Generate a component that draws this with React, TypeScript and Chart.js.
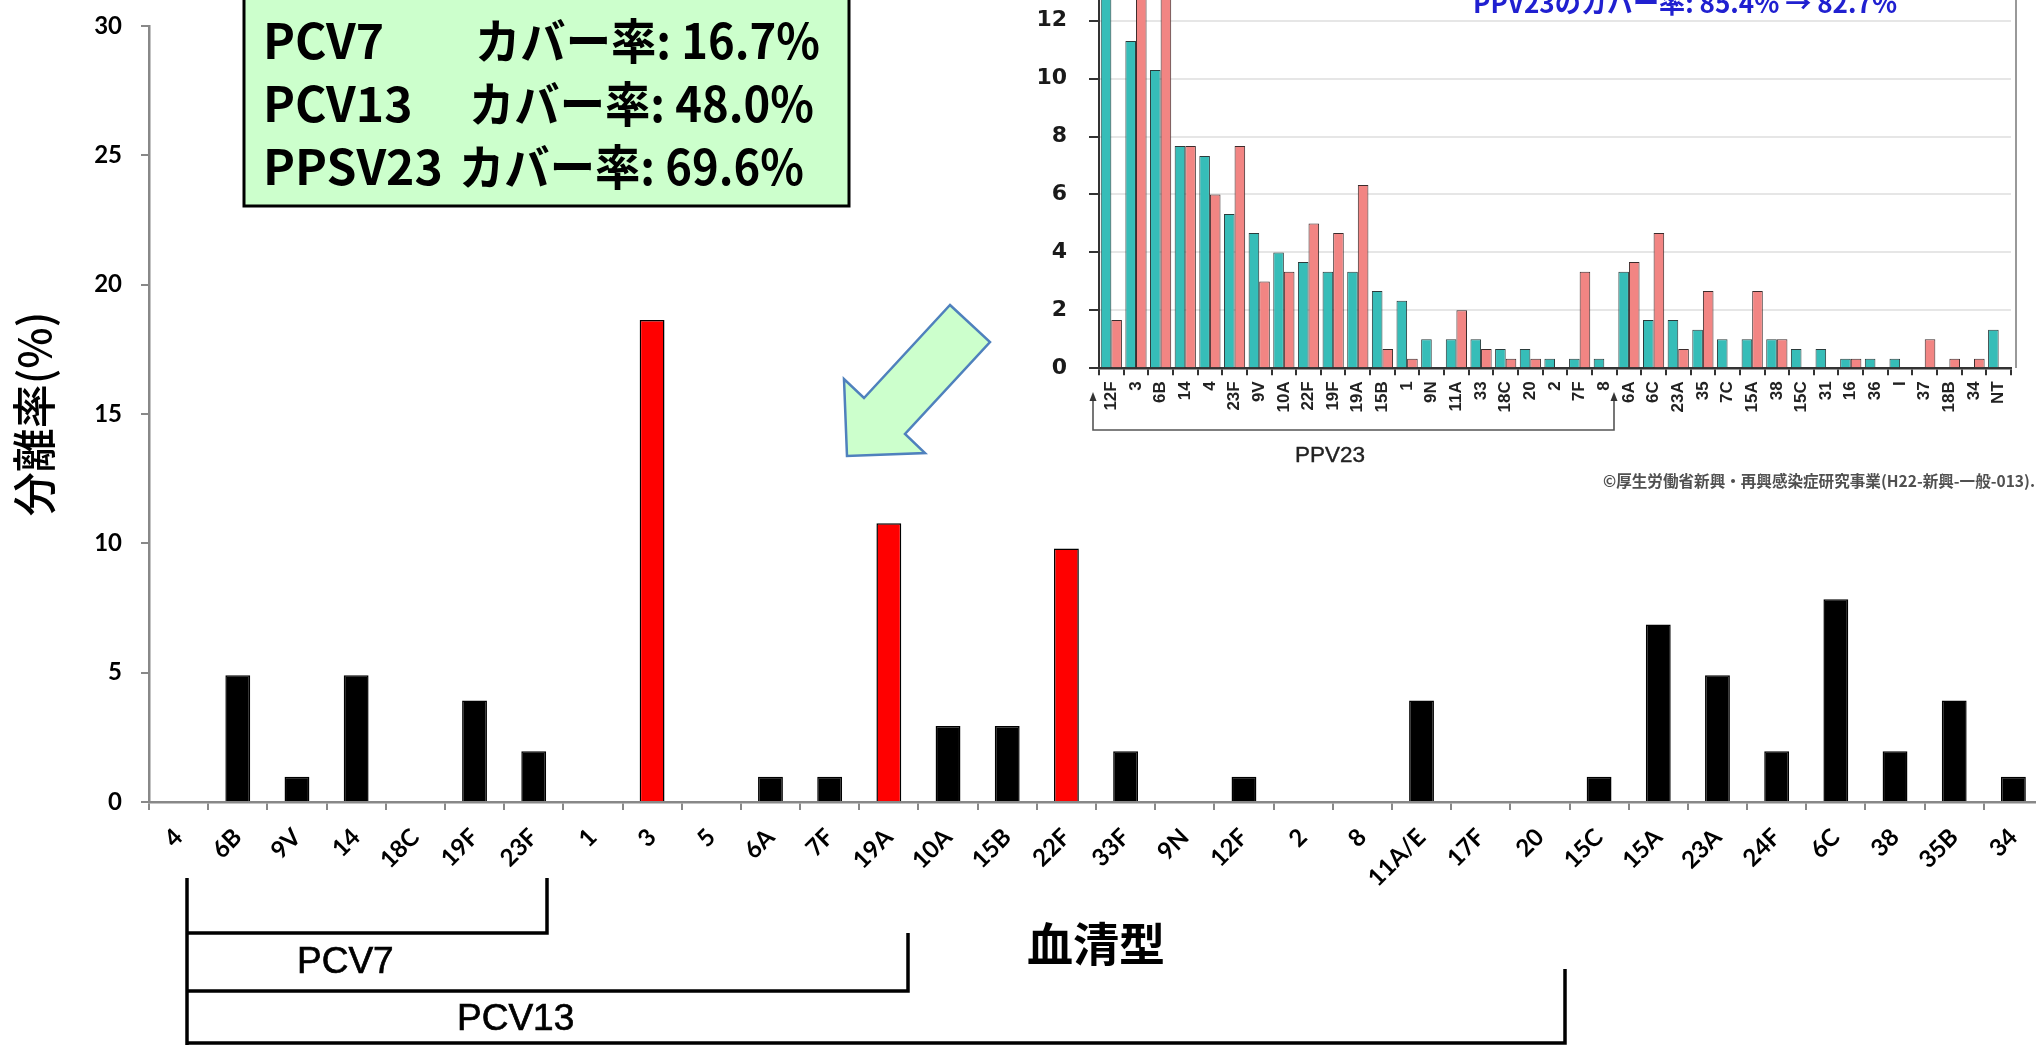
import React, { useEffect, useRef } from 'react';
import { Chart, registerables } from 'chart.js';

Chart.register(...registerables);

// Main chart: serotype distribution (%)
const serotypes = ['4', '6B', '9V', '14', '18C', '19F', '23F', '1', '3', '5', '6A', '7F', '19A', '10A', '15B', '22F', '33F', '9N', '12F', '2', '8', '11A/E', '17F', '20', '15C', '15A', '23A', '24F', '6C', '38', '35B', '34'];
const isolationRate = [0, 4.9, 0.98, 4.9, 0, 3.92, 1.96, 0, 18.63, 0, 0.98, 0.98, 10.78, 2.94, 2.94, 9.8, 1.96, 0, 0.98, 0, 0, 3.92, 0, 0, 0.98, 6.86, 4.9, 1.96, 7.84, 1.96, 3.92, 0.98];
const highlightedSerotypes = ['3', '19A', '22F'];
const mainYMax = 30;
const mainYStep = 5;

// Inset chart (two surveys)
const insetSerotypes = ['12F', '3', '6B', '14', '4', '23F', '9V', '10A', '22F', '19F', '19A', '15B', '1', '9N', '11A', '33', '18C', '20', '2', '7F', '8', '6A', '6C', '23A', '35', '7C', '15A', '38', '15C', '31', '16', '36', 'I', '37', '18B', '34', 'NT'];
const insetSeriesTeal = [16.0, 11.3, 10.3, 7.67, 7.33, 5.33, 4.67, 4.0, 3.67, 3.33, 3.33, 2.67, 2.33, 1.0, 1.0, 1.0, 0.67, 0.67, 0.33, 0.33, 0.33, 3.33, 1.67, 1.67, 1.33, 1.0, 1.0, 1.0, 0.67, 0.67, 0.33, 0.33, 0.33, 0, 0, 0, 1.33];
const insetSeriesSalmon = [1.67, 14.0, 13.0, 7.67, 6.0, 7.67, 3.0, 3.33, 5.0, 4.67, 6.33, 0.67, 0.33, 0, 2.0, 0.67, 0.33, 0.33, 0, 3.33, 0, 3.67, 4.67, 0.67, 2.67, 0, 2.67, 1.0, 0, 0, 0.33, 0, 0, 1.0, 0.33, 0.33, 0];
const insetYMax = 14;
const insetYStep = 2;

const coverageLabels = ['PCV7', 'PCV13', 'PPSV23'];
const coverageTexts = ['カバー率: 16.7%', 'カバー率: 48.0%', 'カバー率: 69.6%'];

const CJK = "'Noto Sans CJK JP', 'Noto Sans CJK SC', sans-serif";

export default function App() {
  const mainRef = useRef<HTMLCanvasElement>(null);
  const insetRef = useRef<HTMLCanvasElement>(null);

  useEffect(() => {
    document.body.style.margin = '0';
    const main = new Chart(mainRef.current as HTMLCanvasElement, {
      type: 'bar',
      data: {
        labels: serotypes,
        datasets: [
          {
            label: '分離率',
            data: isolationRate,
            backgroundColor: serotypes.map((s) => (highlightedSerotypes.includes(s) ? '#ff0000' : '#000000')),
            borderColor: '#000000',
            borderWidth: 1.5,
            barPercentage: 0.42,
            categoryPercentage: 1,
          },
        ],
      },
      options: {
        responsive: false,
        animation: false,
        devicePixelRatio: 1,
        layout: { padding: { top: 26, right: 7, bottom: 0, left: 0 } },
        plugins: { legend: { display: false }, tooltip: { enabled: false } },
        scales: {
          x: {
            offset: true,
            grid: { display: true, drawOnChartArea: false, drawTicks: true, tickLength: 8, tickColor: '#888', color: '#888', lineWidth: 2, offset: true },
            border: { display: true, color: '#888', width: 2.5 },
            ticks: {
              autoSkip: false,
              minRotation: 45,
              maxRotation: 45,
              padding: 13,
              color: '#000',
              font: { family: "Lato, 'DejaVu Sans', sans-serif", weight: 'bold', size: 24 },
            },
            title: {
              display: true,
              text: '血清型',
              color: '#000',
              font: { family: CJK, weight: 'bold', size: 46 },
              padding: { top: 0, bottom: 74 },
            },
            afterFit: (s: any) => {
              s.height = 243;
            },
          },
          y: {
            min: 0,
            max: mainYMax,
            grid: { display: true, drawOnChartArea: false, drawTicks: true, tickLength: 8, tickColor: '#888', color: '#888', lineWidth: 2 },
            border: { display: true, color: '#888', width: 2.5 },
            ticks: {
              stepSize: mainYStep,
              padding: 19,
              color: '#000',
              font: { family: "Lato, 'DejaVu Sans', sans-serif", weight: 'bold', size: 24 },
            },
            title: {
              display: true,
              text: '分離率(%)',
              color: '#000',
              font: { family: CJK, weight: '500', size: 44 },
              padding: { top: 8, bottom: 0 },
            },
            afterFit: (s: any) => {
              s.width = 149;
              s.paddingTop = 0;
              s.paddingBottom = 0;
            },
          },
        },
      },
    });

    const inset = new Chart(insetRef.current as HTMLCanvasElement, {
      type: 'bar',
      data: {
        labels: insetSerotypes,
        datasets: [
          {
            label: 'A',
            data: insetSeriesTeal,
            backgroundColor: '#36bdb8',
            borderColor: '#2b3b3b',
            borderWidth: 1,
            barPercentage: 1,
            categoryPercentage: 0.86,
          },
          {
            label: 'B',
            data: insetSeriesSalmon,
            backgroundColor: '#f28583',
            borderColor: '#3b2b2b',
            borderWidth: 1,
            barPercentage: 1,
            categoryPercentage: 0.86,
          },
        ],
      },
      options: {
        responsive: false,
        animation: false,
        devicePixelRatio: 1,
        layout: { padding: { top: 22.7, right: 25, bottom: 0, left: 0 } },
        plugins: { legend: { display: false }, tooltip: { enabled: false } },
        scales: {
          x: {
            offset: true,
            grid: { display: true, drawOnChartArea: false, drawTicks: true, tickLength: 7, tickColor: '#333', color: '#333', lineWidth: 2, offset: true },
            border: { display: true, color: '#333', width: 2.5 },
            ticks: {
              autoSkip: false,
              minRotation: 90,
              maxRotation: 90,
              padding: 6,
              color: '#222',
              font: { family: "'Liberation Sans', Arial, sans-serif", weight: 'bold', size: 17 },
            },
            afterFit: (s: any) => {
              s.height = 131.7;
            },
          },
          y: {
            min: 0,
            max: insetYMax,
            grid: { display: true, drawOnChartArea: true, drawTicks: true, tickLength: 10, tickColor: '#333', color: '#e6e6e6', lineWidth: 2 },
            border: { display: true, color: '#333', width: 2 },
            ticks: {
              stepSize: insetYStep,
              padding: 22,
              color: '#1a1a1a',
              font: { family: "'DejaVu Sans', sans-serif", weight: 'bold', size: 22 },
            },
            afterFit: (s: any) => {
              s.width = 99;
              s.paddingTop = 0;
              s.paddingBottom = 0;
            },
          },
        },
      },
    });

    return () => {
      main.destroy();
      inset.destroy();
    };
  }, []);

  const boxBaselines = [59, 122, 185];
  const boxTextX = [475, 469, 459];

  return (
    <div style={{ position: 'relative', width: 2036, height: 1045, overflow: 'hidden', background: '#fff' }}>
      <canvas ref={mainRef} width={2050} height={1045} style={{ position: 'absolute', left: 0, top: 0, width: 2050, height: 1045 }} />
      <canvas ref={insetRef} width={1036} height={560} style={{ position: 'absolute', left: 1000, top: -60, width: 1036, height: 560 }} />
      <svg width={2036} height={1045} style={{ position: 'absolute', left: 0, top: 0, pointerEvents: 'none' }}>
        {/* inset decorations */}
        <line x1={2016} y1={0} x2={2016} y2={368} stroke="#999" strokeWidth={2} />
        <text x={1473} y={13} fontFamily={CJK} fontWeight="bold" fontSize={27} fill="#2020d0" textLength={424} lengthAdjust="spacingAndGlyphs">
          PPV23のカバー率: 85.4% → 82.7%
        </text>
        <polyline points="1093,400 1093,430 1614,430 1614,400" fill="none" stroke="#555" strokeWidth={1.6} />
        <polygon points="1093,392 1089.5,401 1096.5,401" fill="#333" />
        <polygon points="1614,392 1610.5,401 1617.5,401" fill="#333" />
        <text x={1295} y={462} fontFamily="'Liberation Sans', Arial, sans-serif" fontSize={22.5} fill="#222" stroke="#222" strokeWidth={0.4}>
          PPV23
        </text>
        <text x={1603} y={487} fontFamily={CJK} fontWeight="bold" fontSize={15.5} fill="#505050" textLength={432} lengthAdjust="spacingAndGlyphs">
          ©厚生労働省新興・再興感染症研究事業(H22-新興-一般-013).
        </text>

        {/* coverage box */}
        <rect x={244} y={-10} width={605} height={216} fill="#ccffcc" stroke="#000" strokeWidth={3} />
        {coverageLabels.map((l, i) => (
          <text key={'l' + i} x={263} y={boxBaselines[i]} fontFamily={CJK} fontWeight="bold" fontSize={48} fill="#000">
            {l}
          </text>
        ))}
        {coverageTexts.map((t, i) => (
          <text key={'t' + i} x={boxTextX[i]} y={boxBaselines[i]} fontFamily={CJK} fontWeight="bold" fontSize={48} fill="#000" textLength={345} lengthAdjust="spacingAndGlyphs">
            {t}
          </text>
        ))}

        {/* arrow */}
        <polygon points="950,305 990,342 905,434 925,453 847,456 844,379 864,398" fill="#ccffcc" stroke="#4f81bd" strokeWidth={2.5} strokeLinejoin="miter" />

        {/* vaccine brackets */}
        <g stroke="#000" strokeWidth={3.5} fill="none">
          <line x1={187} y1={878} x2={187} y2={1050} />
          <polyline points="187,933 547,933 547,878" />
          <polyline points="187,991 908,991 908,933" />
          <polyline points="187,1043 1565,1043 1565,969" />
        </g>
        <text x={297} y={973} fontFamily="'Liberation Sans', Arial, sans-serif" fontSize={37} fill="#000" stroke="#000" strokeWidth={0.7}>
          PCV7
        </text>
        <text x={457} y={1030} fontFamily="'Liberation Sans', Arial, sans-serif" fontSize={37} fill="#000" stroke="#000" strokeWidth={0.7}>
          PCV13
        </text>
      </svg>
    </div>
  );
}
